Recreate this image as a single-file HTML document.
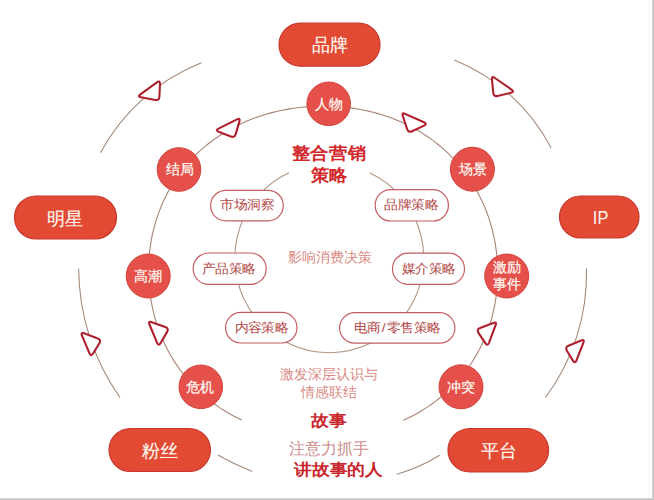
<!DOCTYPE html>
<html><head><meta charset="utf-8">
<style>
html,body{margin:0;padding:0;background:#fff;}
body{width:654px;height:500px;overflow:hidden;position:relative;font-family:"Liberation Sans",sans-serif;}
svg{position:absolute;left:0;top:0;}
text{font-family:"Liberation Sans",sans-serif;}
</style></head><body>
<svg width="654" height="500" viewBox="0 0 654 500">
<rect x="0" y="0" width="654" height="500" fill="#fff"/>
<g fill="none" stroke="#A48A7A" stroke-width="1.1">
<path stroke="#A88474" d="M241.9,420.0 L238.2,418.3 L234.5,416.4 L230.9,414.5 L227.3,412.4 L223.8,410.3 L220.3,408.1 L216.9,405.8 L213.5,403.4 L210.2,400.9 L207.0,398.3 L203.8,395.6 L200.7,392.8 L197.7,390.0 L194.7,387.1 L191.8,384.1 L189.0,381.0 L186.3,377.8 L183.7,374.5 L181.1,371.2 L178.6,367.8 L176.3,364.4 L174.0,360.9 L171.8,357.3 L169.7,353.7 L167.7,350.0 L165.8,346.2 L164.0,342.4 L162.3,338.6 L160.7,334.7 L159.2,330.8 L157.7,326.8 L156.4,322.8 L155.2,318.8 L154.1,314.7 L153.1,310.7 L152.2,306.5 L151.4,302.4 L150.7,298.3 L150.1,294.1 L149.6,289.9 L149.1,285.7 L148.8,281.5 L148.6,277.3 L148.5,273.1 L148.5,268.9 L148.6,264.7 L148.9,260.5 L149.2,256.3 L149.6,252.1 L150.1,247.9 L150.7,243.7 L151.4,239.5 L152.2,235.4 L153.2,231.3 L154.2,227.2 L155.3,223.1 L156.5,219.1 L157.9,215.1 L159.3,211.1 L160.9,207.2 L162.5,203.3 L164.2,199.5 L166.1,195.7 L168.0,192.0 L170.1,188.3 L172.2,184.7 L174.4,181.1 L176.8,177.6 L179.2,174.2 L181.7,170.8 L184.3,167.5 L187.0,164.3 L189.8,161.2 L192.6,158.1 L195.5,155.1 L198.5,152.2 L201.6,149.4 L204.8,146.7 L208.0,144.0 L211.3,141.5 L214.6,139.0 L218.0,136.7 L221.5,134.4 L225.0,132.2 L228.5,130.1 L232.1,128.1 L235.8,126.2 L239.5,124.4 L243.2,122.7 L246.9,121.0 L250.7,119.5 L254.5,118.1 L258.4,116.7 L262.2,115.4 L266.1,114.2 L270.0,113.1 L273.9,112.1 L277.8,111.2 L281.8,110.3 L285.7,109.6 L289.7,108.9 L293.7,108.3 L297.6,107.7 L301.6,107.3 L305.6,106.9 L309.6,106.6 L313.6,106.4 L317.6,106.2 L321.6,106.2 L325.6,106.2 L329.6,106.2 L333.6,106.4 L337.6,106.6 L341.6,107.0 L345.6,107.3 L349.5,107.8 L353.5,108.4 L357.5,109.0 L361.4,109.7 L365.4,110.5 L369.3,111.4 L373.2,112.3 L377.1,113.4 L381.0,114.5 L384.9,115.7 L388.8,117.0 L392.6,118.4 L396.4,119.9 L400.1,121.5 L403.9,123.2 L407.6,124.9 L411.2,126.8 L414.8,128.8 L418.4,130.8 L421.9,132.9 L425.4,135.2 L428.8,137.5 L432.2,139.9 L435.5,142.4 L438.7,145.0 L441.9,147.6 L445.0,150.4 L448.0,153.2 L451.0,156.2 L453.9,159.2 L456.7,162.3 L459.4,165.4 L462.1,168.7 L464.6,172.0 L467.1,175.3 L469.5,178.8 L471.8,182.3 L474.0,185.9 L476.1,189.5 L478.1,193.2 L480.0,196.9 L481.8,200.7 L483.6,204.5 L485.2,208.4 L486.7,212.3 L488.2,216.2 L489.5,220.2 L490.7,224.2 L491.9,228.3 L492.9,232.4 L493.8,236.5 L494.7,240.6 L495.4,244.7 L496.0,248.9 L496.6,253.1 L497.0,257.3 L497.3,261.5 L497.6,265.7 L497.7,269.9 L497.7,274.1 L497.6,278.3 L497.5,282.5 L497.2,286.7 L496.8,290.9 L496.3,295.1 L495.7,299.3 L495.0,303.5 L494.2,307.6 L493.3,311.7 L492.3,315.8 L491.2,319.9 L489.9,323.9 L488.6,328.0 L487.2,331.9 L485.7,335.9 L484.0,339.7 L482.3,343.6 L480.5,347.4 L478.5,351.1 L476.5,354.8 L474.3,358.4 L472.1,362.0 L469.8,365.5 L467.4,368.9 L464.8,372.3 L462.2,375.6 L459.6,378.8 L456.8,381.9 L453.9,385.0 L451.0,388.0 L448.0,390.9 L444.9,393.7 L441.7,396.4 L438.5,399.0 L435.2,401.6 L431.9,404.0 L428.5,406.4 L425.0,408.6 L421.5,410.8 L418.0,412.9 L414.4,414.9 L410.7,416.8 L407.0,418.6 L403.3,420.3"/>
<path d="M369.6,172.8 A94.5,94.5 0 1 1 288.9,172.8" stroke="#B09480"/>
<path d="M100.5,152.7 A197.3,197.3 0 0 1 201.4,62.8"/>
<path d="M454.3,59.9 A189.1,189.1 0 0 1 551.2,148"/>
<path d="M78.6,268.5 A231.3,231.3 0 0 0 119.9,397.5"/>
<path d="M586.5,268.5 A207.7,207.7 0 0 1 545.5,397.5"/>
<path d="M218,455 A220,220 0 0 0 252.4,471.4"/>
<path d="M439.7,455.2 A172,172 0 0 1 396.8,474.2"/>
</g>
<g fill="#fff" stroke="#AE1F2D" stroke-width="2.1" stroke-linejoin="round">
<path d="M218.6,131.8 Q214.9,130.4 218.5,128.6 L237.0,119.4 Q240.6,117.6 239.4,121.4 L235.7,134.1 Q234.5,137.9 230.8,136.5 Z"/>
<path d="M402.8,116.0 Q401.5,112.2 405.1,113.9 L424.0,122.3 Q427.6,123.9 424.0,125.6 L412.1,131.2 Q408.4,132.9 407.2,129.2 Z"/>
<path d="M141.1,97.3 Q137.1,96.6 140.4,94.3 L156.9,82.3 Q160.2,80.0 160.0,84.0 L159.4,96.7 Q159.2,100.7 155.2,100.0 Z"/>
<path d="M492.0,79.7 Q491.6,75.7 494.9,78.0 L511.5,89.6 Q514.8,91.9 510.9,92.8 L497.6,95.9 Q493.7,96.9 493.3,92.9 Z"/>
<path d="M82.0,335.6 Q80.4,331.9 84.2,333.3 L97.7,338.5 Q101.5,339.9 99.4,343.3 L93.1,353.5 Q91.0,356.9 89.4,353.2 Z"/>
<path d="M566.9,350.7 Q564.8,347.3 568.5,345.8 L581.2,340.5 Q584.9,339.0 583.4,342.7 L576.5,360.3 Q575.0,364.0 572.9,360.6 Z"/>
<path d="M149.5,324.5 Q147.9,320.8 151.7,322.2 L165.3,327.1 Q169.1,328.5 167.1,331.9 L160.6,343.0 Q158.6,346.5 157.1,342.8 Z"/>
<path d="M478.5,332.9 Q476.3,329.5 480.1,328.1 L493.3,322.9 Q497.1,321.5 495.6,325.2 L489.0,342.8 Q487.5,346.5 485.3,343.2 Z"/>

</g>
<g fill="#E24A34" stroke="#C8382E" stroke-width="1.2">
<rect x="279" y="23.2" width="101" height="43" rx="21.5"/>
<rect x="14.5" y="196" width="102" height="43" rx="21.5"/>
<rect x="559.5" y="196" width="79.5" height="42" rx="21"/>
<rect x="109" y="428.5" width="101.5" height="43" rx="21.5"/>
<rect x="448" y="428.5" width="100.6" height="43.5" rx="21.7"/>
</g>
<g fill="#E5504A" stroke="#D4443C" stroke-width="1">
<circle cx="328.7" cy="103.8" r="21.8"/>
<circle cx="179" cy="169.5" r="21.8"/>
<circle cx="472.4" cy="169.2" r="22"/>
<circle cx="148.2" cy="276" r="22"/>
<circle cx="506.7" cy="276" r="22"/>
<circle cx="200.8" cy="386.8" r="21.8"/>
<circle cx="461" cy="386.8" r="22"/>
</g>
<g fill="#fff" stroke="#C45E62" stroke-width="1.2">
<rect x="210.6" y="190.3" width="72.7" height="30.6" rx="15.3"/>
<rect x="375.2" y="189.6" width="73.2" height="31.4" rx="15.5"/>
<rect x="193.2" y="253" width="73" height="31.4" rx="15.5"/>
<rect x="392.5" y="253.2" width="72" height="31.2" rx="15.5"/>
<rect x="225.6" y="312.4" width="71.4" height="30.6" rx="15.3"/>
<rect x="339.6" y="312.6" width="115.3" height="30.6" rx="15.3"/>
</g>
<g fill="#FFF8F0" stroke="#FFF8F0" stroke-width="0.15" font-size="18" text-anchor="middle">
<text x="329.6" y="51">品牌</text>
<text x="65.4" y="224.6">明星</text>
<text x="600.6" y="224" font-size="18.6" stroke-width="0" transform="translate(600.6,0) scale(0.88,1) translate(-600.6,0)">IP</text>
<text x="159.6" y="457.2">粉丝</text>
<text x="499.2" y="457.2">平台</text>
</g>
<g fill="#FFF8F0" stroke="#FFF8F0" stroke-width="0.25" font-size="13.6" text-anchor="middle">
<text x="329" y="108.6">人物</text>
<text x="179.9" y="174.3">结局</text>
<text x="472.6" y="173.8">场景</text>
<text x="148.2" y="280.6">高潮</text>
<text x="506.7" y="271.8">激励</text>
<text x="506.7" y="288.8">事件</text>
<text x="199.8" y="392">危机</text>
<text x="461" y="391.8">冲突</text>
</g>
<g fill="#B24644" font-size="13.9" text-anchor="middle">
<g transform="translate(0,208.9) scale(1,0.94)"><text x="247.2" y="0">市场洞察</text></g>
<g transform="translate(0,208.9) scale(1,0.94)"><text x="411.2" y="0">品牌策略</text></g>
<g transform="translate(0,273) scale(1,0.94)"><text x="228.8" y="0">产品策略</text></g>
<g transform="translate(0,272.5) scale(1,0.94)"><text x="428.8" y="0">媒介策略</text></g>
<g transform="translate(0,332.2) scale(1,0.94)"><text x="261.3" y="0">内容策略</text></g>
<g transform="translate(0,331.7) scale(1,0.94)"><text x="397.2" y="0">电商<tspan dx="1.2">/</tspan><tspan dx="1.2">零售策略</tspan></text></g>
</g>
<g fill="#D2272B" font-weight="bold" text-anchor="middle">
<g transform="translate(0,158.7) scale(1,0.93)"><text x="329" y="0" font-size="18.5">整合营销</text></g>
<g transform="translate(0,181.2) scale(1,0.93)"><text x="329.5" y="0" font-size="18.5">策略</text></g>
<g transform="translate(0,426) scale(1,0.9)"><text x="328.8" y="0" font-size="17.7" fill="#C8262C">故事</text></g>
<g transform="translate(0,474.6) scale(1,0.9)"><text x="338.5" y="0" font-size="17.7" fill="#C8262C">讲故事的人</text></g>
</g>
<g fill="#D98882" font-size="14" text-anchor="middle">
<text x="329.8" y="262.4">影响消费决策</text>
<text x="329.3" y="378.9">激发深层认识与</text>
<text x="328.8" y="396.8">情感联结</text>
<text x="329.4" y="454.2" font-size="15.9" fill="#CC8C8A">注意力抓手</text>
</g>
<rect x="648" y="0" width="1" height="498" fill="#F9F9F9"/>
<rect x="652" y="0" width="1" height="500" fill="#D6D6D6"/>
<rect x="653" y="0" width="1" height="500" fill="#C4C4C4"/>
<rect x="0" y="498" width="652" height="1" fill="#D8D8D8"/>
<rect x="0" y="499" width="654" height="1" fill="#C4C4C4"/>
</svg>
</body></html>
